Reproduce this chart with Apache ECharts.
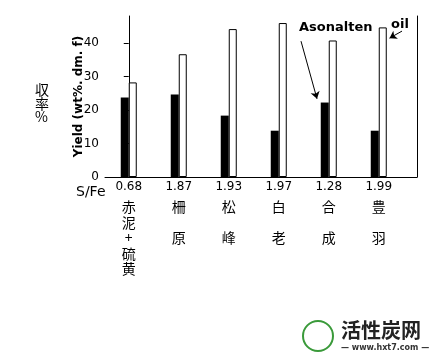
<!DOCTYPE html>
<html>
<head>
<meta charset="utf-8">
<script src="https://cdn.jsdelivr.net/npm/echarts@6/dist/echarts.min.js"></script>
<style>html,body{margin:0;padding:0;background:#fff;}#c{width:430px;height:360px;}</style>
</head>
<body>
<div id="c"></div>
<script>
// Data
var categories = ['赤\n泥\n+\n硫\n黄', '柵\n\n原', '松\n\n峰', '白\n\n老', '合\n\n成', '豊\n\n羽'];
var sfeRatio = ['0.68', '1.87', '1.93', '1.97', '1.28', '1.99'];
var asphalteneYield = [23.7, 24.6, 18.3, 13.8, 22.2, 13.8];
var oilYield = [28.2, 36.6, 44.1, 45.9, 40.7, 44.6];
var yTicks = [0, 10, 20, 30, 40];
var catIndex = categories.map(function (c, i) { return i; });

var chart = echarts.init(document.getElementById('c'));
var font = 'DejaVu Sans';
var cjk = '"Noto Sans CJK JP"';

chart.setOption({
  animation: false,
  backgroundColor: '#fff',
  grid: { left: 105, right: 13, top: 16, bottom: 183 },
  title: {
    text: '収\n率\n%',
    left: 35, top: 83, padding: 0,
    textStyle: { fontFamily: cjk, fontSize: 14, fontWeight: 'normal', color: '#000', lineHeight: 13.5 }
  },
  xAxis: {
    type: 'value',
    min: -0.475, max: 5.765,
    axisLine: { show: true, lineStyle: { color: '#000', width: 1 } },
    axisTick: { show: false },
    splitLine: { show: false },
    axisLabel: {
      customValues: catIndex,
      margin: 6,
      formatter: function (v) {
        var i = Math.round(v);
        return '{a|' + sfeRatio[i] + '}\n{b|' + categories[i] + '}';
      },
      rich: {
        a: { fontFamily: font, fontSize: 12, color: '#000', lineHeight: 16, padding: [0, 0, 8, 0] },
        b: { fontFamily: cjk, fontSize: 14, color: '#000', lineHeight: 15.5 }
      }
    }
  },
  yAxis: [{
    type: 'value', min: 0, max: 48,
    name: 'Yield (wt%. dm. f)',
    nameLocation: 'middle', nameGap: 20, nameMoveOverlap: false,
    nameTextStyle: { fontFamily: font, fontSize: 12, fontWeight: 'bold', color: '#000' },
    axisLine: { show: true, lineStyle: { color: '#000', width: 1 } },
    axisTick: { show: true, length: 5, customValues: yTicks, lineStyle: { color: '#000' } },
    splitLine: { show: false },
    axisLabel: { customValues: yTicks, margin: 6, fontFamily: font, fontSize: 12, color: '#000' }
  }, {
    type: 'value', min: 0, max: 48, position: 'right',
    axisLine: { show: true, lineStyle: { color: '#000', width: 1 } },
    axisTick: { show: false }, axisLabel: { show: false }, splitLine: { show: false }
  }],
  graphic: [
    { type: 'text', left: 76, top: 185, style: { text: 'S/Fe', fontFamily: font, fontSize: 14, fill: '#000' } },
    { type: 'text', left: 299, top: 21, style: { text: 'Asonalten', fontFamily: font, fontSize: 13, fontWeight: 'bold', fill: '#000' } },
    { type: 'text', left: 391, top: 18, style: { text: 'oil', fontFamily: font, fontSize: 13, fontWeight: 'bold', fill: '#000' } },
    { type: 'circle', shape: { cx: 318, cy: 336, r: 15 }, style: { fill: 'none', stroke: '#3a9a3a', lineWidth: 2 } },
    { type: 'text', left: 341, top: 320, style: { text: '活性炭网', fontFamily: cjk, fontSize: 20, fontWeight: 'bold', fill: '#222' } },
    { type: 'text', left: 341, top: 344, style: { text: '— www.hxt7.com —', fontFamily: font, fontSize: 8, fontWeight: 'bold', fill: '#333' } }
  ],
  series: [{
    type: 'bar',
    data: asphalteneYield.map(function (v, i) { return [i, v]; }),
    barWidth: 8, barGap: '0%',
    itemStyle: { color: '#000' },
    markLine: {
      silent: true, symbol: ['none', 'arrow'], symbolSize: 7,
      label: { show: false },
      lineStyle: { color: '#000', width: 1, type: 'solid' },
      data: [[{ coord: [3.525, 40.5] }, { coord: [3.845, 23.3] }]]
    }
  }, {
    type: 'bar',
    data: oilYield.map(function (v, i) { return [i, v]; }),
    barWidth: 8, barGap: '0%',
    itemStyle: { color: '#fff', borderColor: '#000', borderWidth: 1 },
    markLine: {
      silent: true, symbol: ['none', 'arrow'], symbolSize: 7,
      label: { show: false },
      lineStyle: { color: '#000', width: 1, type: 'solid' },
      data: [[{ coord: [5.385, 43.5] }, { coord: [5.135, 41.4] }]]
    }
  }]
});
</script>
</body>
</html>
